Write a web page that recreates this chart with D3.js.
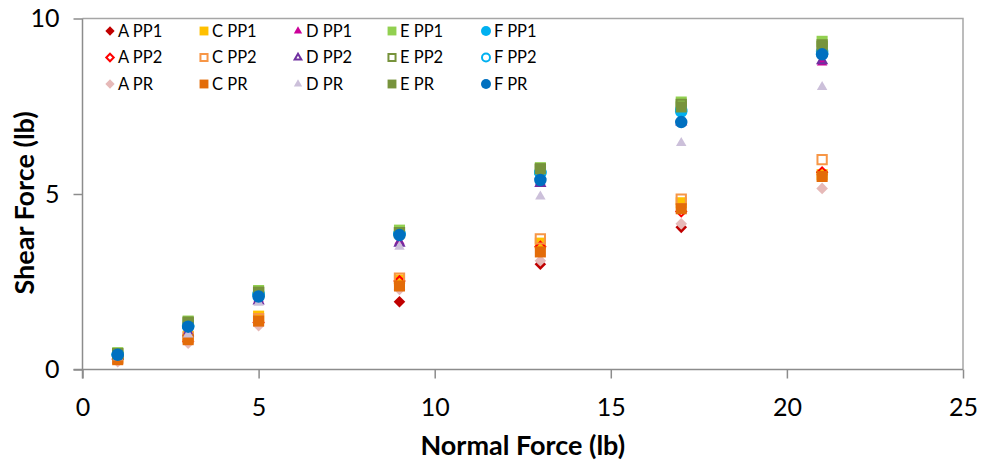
<!DOCTYPE html>
<html><head><meta charset="utf-8">
<script src="https://cdn.jsdelivr.net/npm/d3@7"></script>
<style>
html,body{margin:0;padding:0;background:#fff;}
svg{display:block;}
text{font-family:Lato,"Liberation Sans",sans-serif;}
</style></head>
<body>
<svg id="chart" width="983" height="466"></svg>
<script>
const normalForce = [1, 3, 5, 9, 13, 17, 21];
const xTicks = [0, 5, 10, 15, 20, 25];
const yTicks = [0, 5, 10];
const xTitle = "Normal Force (lb)";
const yTitle = "Shear Force (lb)";

// series in legend order (row-wise), also drawing order
const seriesNames = ["A PP1","C PP1","D PP1","E PP1","F PP1",
                     "A PP2","C PP2","D PP2","E PP2","F PP2",
                     "A PR","C PR","D PR","E PR","F PR"];
const A_PP1 = [0.30, 0.85, 1.35, 1.93, 3.00, 4.05, 5.55];
const C_PP1 = [0.35, 0.95, 1.52, 2.55, 3.60, 4.75, 5.55];
const D_PP1 = [0.40, 1.10, 2.00, 3.65, 5.35, 7.05, 8.75];
const E_PP1 = [0.48, 1.38, 2.25, 3.97, 5.75, 7.62, 9.35];
const F_PP1 = [0.43, 1.25, 2.12, 3.87, 5.60, 7.35, 9.00];
const A_PP2 = [0.30, 0.80, 1.34, 2.52, 3.50, 4.50, 5.62];
const C_PP2 = [0.32, 0.92, 1.45, 2.60, 3.72, 4.85, 5.98];
const D_PP2 = [0.38, 1.05, 1.95, 3.60, 5.30, 7.05, 8.80];
const E_PP2 = [0.45, 1.35, 2.20, 3.90, 5.70, 7.55, 9.25];
const F_PP2 = [0.43, 1.25, 2.15, 3.88, 5.62, 7.40, 9.05];
const A_PR  = [0.22, 0.75, 1.25, 2.28, 3.10, 4.15, 5.16];
const C_PR  = [0.28, 0.85, 1.38, 2.38, 3.35, 4.58, 5.50];
const D_PR  = [0.35, 1.00, 1.90, 3.50, 4.93, 6.45, 8.05];
const E_PR  = [0.45, 1.33, 2.20, 3.90, 5.72, 7.48, 9.20];
const F_PR  = [0.42, 1.22, 2.08, 3.83, 5.40, 7.05, 8.98];
const seriesValues = [A_PP1,C_PP1,D_PP1,E_PP1,F_PP1,A_PP2,C_PP2,D_PP2,E_PP2,F_PP2,A_PR,C_PR,D_PR,E_PR,F_PR];

const styles = {
  "A PP1":{shape:"diamond",fill:"#C00000",stroke:null},
  "C PP1":{shape:"square",fill:"#FFC000",stroke:null},
  "D PP1":{shape:"triangle",fill:"#CC0099",stroke:null},
  "E PP1":{shape:"square",fill:"#92D050",stroke:null},
  "F PP1":{shape:"circle",fill:"#00B0F0",stroke:null},
  "A PP2":{shape:"diamond",fill:"none",stroke:"#FF0000"},
  "C PP2":{shape:"square",fill:"none",stroke:"#F79646"},
  "D PP2":{shape:"triangle",fill:"none",stroke:"#7030A0"},
  "E PP2":{shape:"square",fill:"none",stroke:"#77933C"},
  "F PP2":{shape:"circle",fill:"none",stroke:"#00B0F0"},
  "A PR":{shape:"diamond",fill:"#E6B9B8",stroke:null},
  "C PR":{shape:"square",fill:"#E36C09",stroke:null},
  "D PR":{shape:"triangle",fill:"#CCC0DA",stroke:null},
  "E PR":{shape:"square",fill:"#77933C",stroke:null},
  "F PR":{shape:"circle",fill:"#0070C0",stroke:null}
};

const svg = d3.select("#chart");
const L = 82.5, R = 963, T = 18.5, B = 369.5;
const x = d3.scaleLinear().domain([0,25]).range([L,R]);
const y = d3.scaleLinear().domain([0,10]).range([B,T]);
const axisColor = "#8C8C8C";

// plot border (top & right)
svg.append("path").attr("d",`M${L},${T}H${R}V${B}`).attr("fill","none").attr("stroke","#A6A6A6").attr("stroke-width",1.5);

const gx = svg.append("g").attr("transform",`translate(0,${B})`)
  .call(d3.axisBottom(x).tickValues(xTicks).tickSize(9).tickPadding(20).tickFormat(d3.format("d")));
const gy = svg.append("g").attr("transform",`translate(${L},0)`)
  .call(d3.axisLeft(y).tickValues(yTicks).tickSize(9).tickPadding(14).tickFormat(d3.format("d")));
[gx,gy].forEach(g=>{
  g.select(".domain").attr("stroke",axisColor).attr("stroke-width",1.5);
  g.selectAll(".tick line").attr("stroke",axisColor).attr("stroke-width",1.5);
  g.selectAll(".tick text").attr("font-size",25).attr("fill","#000").style("font-family","Lato");
});
// extend domains so ticks at the origin cross
gx.select(".domain").attr("d",`M${L-9},0H${R}`);
gy.select(".domain").attr("d",`M0,${T}V${B+9}`);

svg.append("text").attr("x",(L+R)/2).attr("y",455).attr("text-anchor","middle")
  .attr("font-size",27).attr("font-weight","bold").text(xTitle);
svg.append("text").attr("transform",`translate(34,${(T+B)/2+9}) rotate(-90)`).attr("text-anchor","middle")
  .attr("font-size",27).attr("font-weight","bold").text(yTitle);

function symType(s){
  return s==="diamond"?d3.symbolDiamond2:s==="square"?d3.symbolSquare2:s==="triangle"?d3.symbolTriangle2:d3.symbolCircle;
}
function sizeFor(s, px){
  if(s==="square") return px*px;
  if(s==="circle") return Math.PI*(px/2)*(px/2);
  if(s==="diamond") return (px*px)/2*1.1;
  return px*px*0.5;
}
function drawMarker(g, st, cx, cy, px){
  const outline = st.fill==="none";
  const p = d3.symbol().type(symType(st.shape)).size(sizeFor(st.shape, outline?px-2:px));
  g.append("path").attr("d",p()).attr("transform",`translate(${cx},${cy})`)
    .attr("fill", outline?"none":st.fill)
    .attr("stroke", outline?st.stroke:"none")
    .attr("stroke-width", outline?2:0);
}

const plotG = svg.append("g");
seriesNames.forEach((name,i)=>{
  const st = styles[name];
  const g = plotG.append("g").attr("class","series");
  normalForce.forEach((nf,j)=>{
    drawMarker(g, st, x(nf), y(seriesValues[i][j]), 12.5);
  });
});

// legend
const legX0 = 110, legDX = 94, legY0 = 31, legDY = 26.5;
const leg = svg.append("g");
seriesNames.forEach((name,i)=>{
  const col = i%5, row = Math.floor(i/5);
  const cx = legX0 + col*legDX, cy = legY0 + row*legDY;
  drawMarker(leg, styles[name], cx, cy, 10);
  leg.append("text").attr("x",cx+8).attr("y",cy).attr("dy","0.36em")
    .attr("font-size",16.5).attr("fill","#000").text(name);
});
</script>
</body></html>
